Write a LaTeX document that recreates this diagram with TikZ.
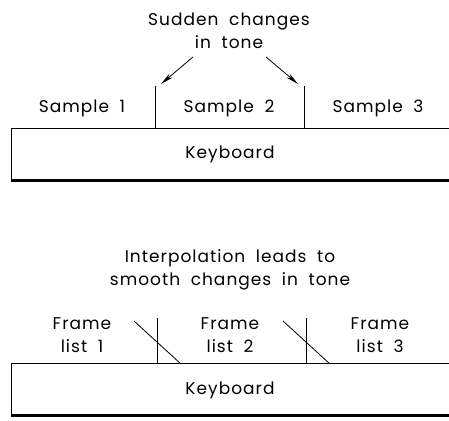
\documentclass[tikz,border=0pt]{standalone}
\usepackage{fontspec}
\setmainfont{Poppins}[LetterSpace=6,WordSpace=1.9]
\usepackage{tikz}
\usetikzlibrary{arrows.meta,calc}

\begin{document}
\begin{tikzpicture}[x=1pt, y=-1pt, >={Stealth[length=13pt,width=5pt]},
  kbd/.style={draw, line width=0.8pt, minimum width=438pt, minimum height=53pt, inner sep=0pt, font=\fontsize{17}{20}\selectfont},
  shadowline/.style={line width=3pt},
  lbl/.style={align=center, inner sep=0pt, font=\fontsize{17}{23}\selectfont},
  thin/.style={line width=0.8pt}]
  \useasboundingbox (0,0) rectangle (449,420);

  % upper: separate samples
  \node[kbd](kb1) at (230,154.5){Keyboard};
  \draw[shadowline]($(kb1.south west)+(1,-1)$)--($(kb1.south east)+(0,-1)$);
  \node[lbl](sudden) at (229,31){Sudden changes\\in tone};
  \node[lbl](smp1) at (82,108){Sample 1};
  \node[lbl](smp2) at (229,108){Sample 2};
  \node[lbl](smp3) at (378,108){Sample 3};
  \coordinate (d1) at (155,86);
  \coordinate (d2) at (304,86);
  \foreach \d in {d1,d2}{\draw[thin](\d)--(\d |- kb1.north);}
  \coordinate (t1) at (193,57);
  \coordinate (t2) at (266,57);
  \coordinate (h1) at (161,84);
  \coordinate (h2) at (298,84);
  \foreach \a/\b in {t1/h1,t2/h2}{\draw[thin,->](\a)--(\b);}

  % lower: interpolated frame lists
  \node[kbd](kb2) at (230,390){Keyboard};
  \draw[shadowline]($(kb2.south west)+(1,-1)$)--($(kb2.south east)+(0,-1)$);
  \node[lbl](interp) at (230,270){Interpolation leads to\\smooth changes in tone};
  \node[lbl](fl1) at (82,335){Frame\\list 1};
  \node[lbl](fl2) at (230,335){Frame\\list 2};
  \node[lbl](fl3) at (380,335){Frame\\list 3};
  \coordinate (e1) at (157,318);
  \coordinate (e2) at (306,318);
  \foreach \d in {e1,e2}{\draw[thin](\d)--(\d |- kb2.north);}
  \coordinate (s1) at (134,321);
  \coordinate (s2) at (283,321);
  \foreach \s in {s1,s2}{\draw[thin](\s)--($(\s |- kb2.north)+(46,0)$);}
\end{tikzpicture}
\end{document}
